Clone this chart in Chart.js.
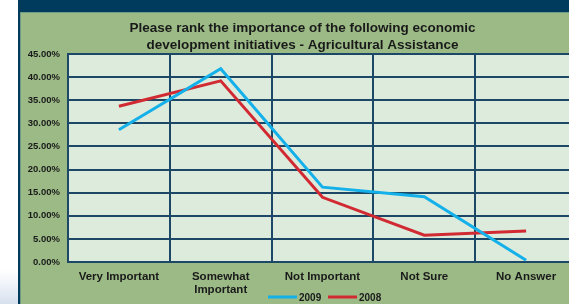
<!DOCTYPE html>
<html>
<head>
<meta charset="utf-8">
<script src="https://cdn.jsdelivr.net/npm/chart.js@4/dist/chart.umd.min.js"></script>
<style>
  html, body { margin: 0; padding: 0; background: #ffffff; overflow: hidden; }
  #wrap { width: 569px; height: 304px; overflow: hidden; }
</style>
</head>
<body>
<div id="wrap"><canvas id="rankChart" width="577" height="304"></canvas></div>
<script>
// chart data
const categories = ["Very Important", ["Somewhat", "Important"], "Not Important", "Not Sure", "No Answer"];
const values2009 = [28.6, 41.8, 16.2, 14.1, 0.4];
const values2008 = [33.7, 39.2, 14.0, 5.8, 6.7];
const yTicks = [0, 5, 10, 15, 20, 25, 30, 35, 40, 45];

const labelFont = "'Liberation Sans', Arial, sans-serif";

// frame + plot background
const framePlugin = {
    id: "frame",
    beforeDraw(chart) {
        const ctx = chart.ctx;
        const a = chart.chartArea;
        ctx.save();
        ctx.fillStyle = "#ffffff";
        ctx.fillRect(0, 0, 577, 304);
        const g = ctx.createLinearGradient(0, 270, 0, 304);
        g.addColorStop(0, "rgba(220,228,240,0)");
        g.addColorStop(1, "rgba(214,224,238,1)");
        ctx.fillStyle = g;
        ctx.fillRect(0, 270, 18, 34);
        ctx.fillStyle = "#003a5c";
        ctx.fillRect(18, 0, 559, 304);
        ctx.fillStyle = "#6f9a86";
        ctx.fillRect(20, 12, 557, 292);
        ctx.fillStyle = "#9bba86";
        ctx.fillRect(21, 13, 556, 291);
        ctx.fillStyle = "#dcebdc";
        ctx.fillRect(a.left, a.top, a.right - a.left, a.bottom - a.top);
        ctx.restore();
    }
};

// legend drawn below the axis labels, from the datasets
const legendPlugin = {
    id: "bottomLegend",
    afterDraw(chart) {
        const ctx = chart.ctx;
        const y = 297;
        let x = 268;
        ctx.save();
        ctx.font = "bold 10px " + labelFont;
        ctx.textBaseline = "middle";
        chart.data.datasets.forEach(ds => {
            ctx.fillStyle = ds.borderColor;
            ctx.fillRect(x, y - 1.5, 29, 3);
            ctx.fillStyle = "#1a1a1a";
            ctx.fillText(ds.label, x + 31, y + 1);
            x += 60;
        });
        ctx.restore();
    }
};

new Chart(document.getElementById("rankChart"), {
    type: "line",
    data: {
        labels: categories,
        datasets: [
            {
                label: "2009",
                data: values2009,
                borderColor: "#14b0ea",
                backgroundColor: "#14b0ea",
                borderWidth: 3,
                pointRadius: 0,
                tension: 0,
                fill: false
            },
            {
                label: "2008",
                data: values2008,
                borderColor: "#d22a33",
                backgroundColor: "#d22a33",
                borderWidth: 3,
                pointRadius: 0,
                tension: 0,
                fill: false
            }
        ]
    },
    options: {
        responsive: false,
        animation: false,
        devicePixelRatio: 1,
        layout: { padding: { left: 28, right: 0, top: 13, bottom: 0 } },
        plugins: {
            title: {
                display: true,
                text: ["Please rank the importance of the following economic", "development initiatives - Agricultural Assistance"],
                color: "#1a1a1a",
                font: { family: labelFont, size: 13.5, weight: "bold", lineHeight: 1.26 },
                padding: { top: 7, bottom: 0 }
            },
            legend: { display: false },
            tooltip: { enabled: false }
        },
        scales: {
            x: {
                offset: true,
                grid: {
                    offset: true,
                    color: "#1c4766",
                    lineWidth: 2,
                    drawTicks: false
                },
                border: { color: "#1c4766", width: 2 },
                ticks: {
                    color: "#1a1a1a",
                    font: { family: labelFont, size: 11.5, weight: "bold", lineHeight: 1.1 },
                    padding: 9,
                    maxRotation: 0,
                    autoSkip: false
                },
                afterFit(scale) { scale.height = 42; }
            },
            y: {
                min: 0,
                max: 45,
                afterBuildTicks(scale) {
                    scale.ticks = yTicks.map(v => ({ value: v }));
                },
                grid: {
                    color: "#1c4766",
                    lineWidth: 2,
                    drawTicks: false
                },
                border: { color: "#1c4766", width: 2 },
                ticks: {
                    color: "#1a1a1a",
                    font: { family: labelFont, size: 9.5, weight: "bold" },
                    padding: 8,
                    callback: v => v.toFixed(2) + "%"
                },
                afterFit(scale) { scale.width = 40; }
            }
        }
    },
    plugins: [framePlugin, legendPlugin]
});
</script>
</body>
</html>
